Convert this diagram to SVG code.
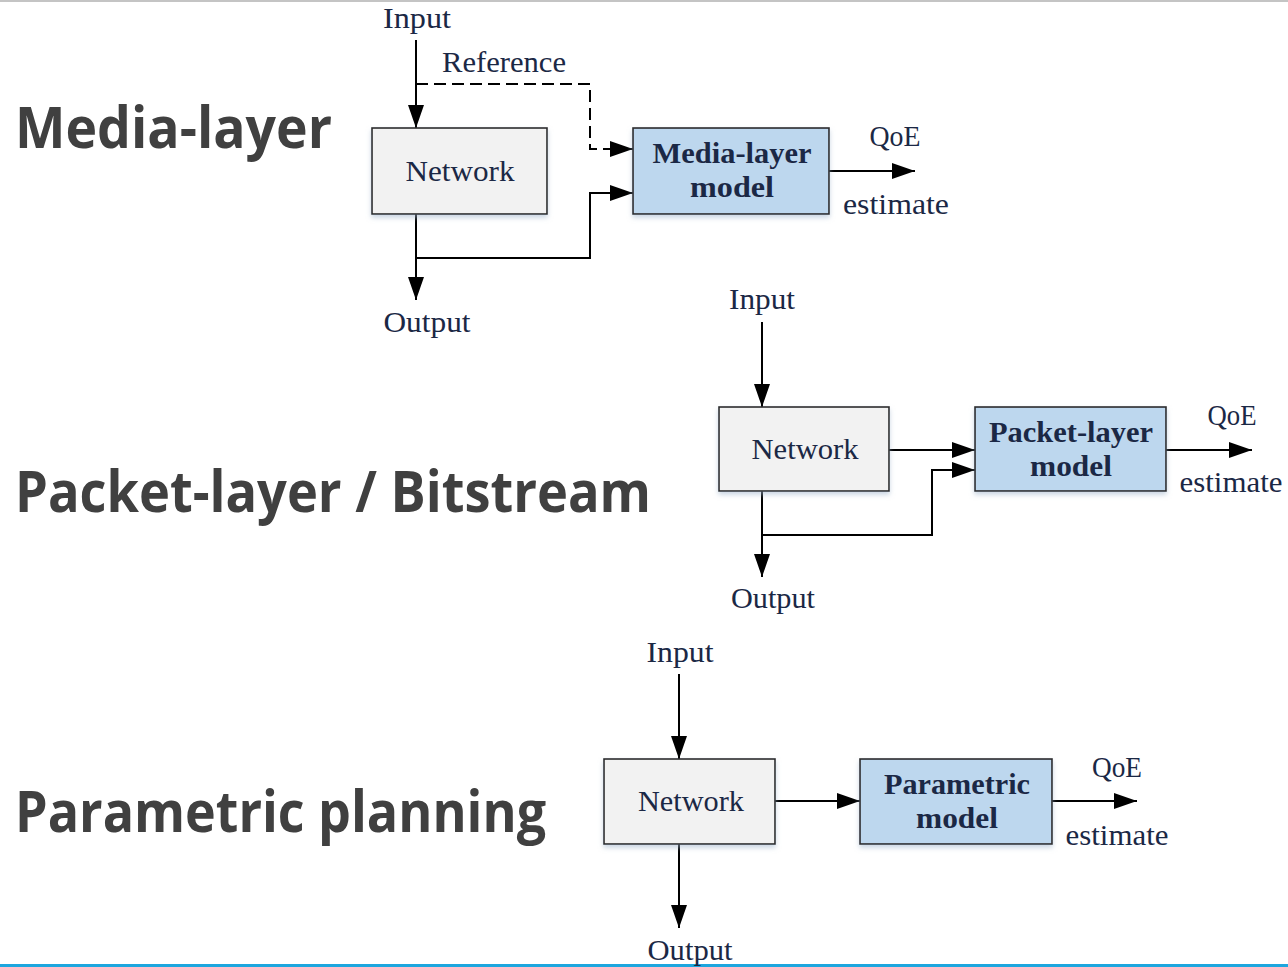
<svg xmlns="http://www.w3.org/2000/svg" width="1288" height="967" viewBox="0 0 1288 967">
  <style>
    .title { font-family: "Open Sans", "Liberation Sans", sans-serif; font-weight: 700; font-size: 58px; fill: #404040; }
    .lbl { font-family: "Liberation Serif", "DejaVu Serif", serif; font-size: 29px; fill: #1b2845; text-anchor: middle; }
    .mdl { font-family: "Liberation Serif", "DejaVu Serif", serif; font-size: 29px; font-weight: 700; fill: #1b2845; text-anchor: middle; }
    .net { fill: #f2f2f2; stroke: #2a2a2a; stroke-width: 1.6; filter: url(#shadow); }
    .model { fill: #bdd7ee; stroke: #2a2a2a; stroke-width: 1.6; filter: url(#shadow); }
    .wire { fill: none; stroke: #000; stroke-width: 2; }
    .arrow { marker-end: url(#head); }
    .dash { stroke-dasharray: 12 6; }
  </style>
  <defs>
    <marker id="head" markerUnits="userSpaceOnUse" markerWidth="24" markerHeight="16" refX="23" refY="8" orient="auto">
      <path d="M0,0 L23,8 L0,16 z" fill="#000"/>
    </marker>
    <filter id="shadow" x="-10%" y="-10%" width="120%" height="130%">
      <feDropShadow dx="0" dy="3" stdDeviation="2.5" flood-color="#9fb4cc" flood-opacity="0.55"/>
    </filter>
  </defs>

  <rect width="1288" height="967" fill="#fff"/>
  <!-- page rules -->
  <rect x="0" y="0" width="1288" height="2" fill="#c4c4c4"/>
  <rect x="0" y="964" width="1288" height="3" fill="#1da6de"/>

  <!-- section titles -->
  <text class="title" x="15" y="148" textLength="317" lengthAdjust="spacingAndGlyphs">Media-layer</text>
  <text class="title" x="15" y="512" textLength="636" lengthAdjust="spacingAndGlyphs">Packet-layer / Bitstream</text>
  <text class="title" x="15" y="832" textLength="531" lengthAdjust="spacingAndGlyphs">Parametric planning</text>

  <!-- connectors -->
  <g id="connectors">
    <!-- media-layer -->
    <line class="wire arrow" x1="416" y1="40" x2="416" y2="128"/>
    <polyline class="wire dash arrow" points="416,84 590,84 590,149 633,149"/>
    <line class="wire arrow" x1="416" y1="214" x2="416" y2="300"/>
    <polyline class="wire arrow" points="416,258 590,258 590,193 633,193"/>
    <line class="wire arrow" x1="829" y1="171" x2="915" y2="171"/>
    <!-- packet-layer -->
    <line class="wire arrow" x1="762" y1="322" x2="762" y2="407"/>
    <line class="wire arrow" x1="889" y1="450" x2="975" y2="450"/>
    <line class="wire arrow" x1="762" y1="491" x2="762" y2="577"/>
    <polyline class="wire arrow" points="762,535 932,535 932,470 975,470"/>
    <line class="wire arrow" x1="1166" y1="450" x2="1252" y2="450"/>
    <!-- parametric -->
    <line class="wire arrow" x1="679" y1="674" x2="679" y2="759"/>
    <line class="wire arrow" x1="775" y1="801" x2="860" y2="801"/>
    <line class="wire arrow" x1="679" y1="844" x2="679" y2="928"/>
    <line class="wire arrow" x1="1052" y1="801" x2="1137" y2="801"/>
  </g>

  <!-- media-layer nodes -->
  <g id="ml-network">
    <rect class="net" x="372" y="128" width="175" height="86"/>
    <text class="lbl" x="460" y="181" textLength="109" lengthAdjust="spacingAndGlyphs">Network</text>
  </g>
  <g id="ml-model">
    <rect class="model" x="633" y="128" width="196" height="86"/>
    <text class="mdl" x="732" y="163" textLength="159" lengthAdjust="spacingAndGlyphs">Media-layer</text>
    <text class="mdl" x="732" y="197" textLength="84" lengthAdjust="spacingAndGlyphs">model</text>
  </g>
  <g id="ml-labels">
    <text class="lbl" x="417" y="28" textLength="68" lengthAdjust="spacingAndGlyphs">Input</text>
    <text class="lbl" x="504" y="72" textLength="124" lengthAdjust="spacingAndGlyphs">Reference</text>
    <text class="lbl" x="427" y="332" textLength="87" lengthAdjust="spacingAndGlyphs">Output</text>
    <text class="lbl" x="895" y="146" textLength="51" lengthAdjust="spacingAndGlyphs">QoE</text>
    <text class="lbl" x="896" y="214" textLength="106" lengthAdjust="spacingAndGlyphs">estimate</text>
  </g>

  <!-- packet-layer nodes -->
  <g id="pl-network">
    <rect class="net" x="719" y="407" width="170" height="84"/>
    <text class="lbl" x="805" y="459" textLength="107" lengthAdjust="spacingAndGlyphs">Network</text>
  </g>
  <g id="pl-model">
    <rect class="model" x="975" y="407" width="191" height="84"/>
    <text class="mdl" x="1071" y="442" textLength="164" lengthAdjust="spacingAndGlyphs">Packet-layer</text>
    <text class="mdl" x="1071" y="476" textLength="82" lengthAdjust="spacingAndGlyphs">model</text>
  </g>
  <g id="pl-labels">
    <text class="lbl" x="762" y="309" textLength="66" lengthAdjust="spacingAndGlyphs">Input</text>
    <text class="lbl" x="773" y="608" textLength="84" lengthAdjust="spacingAndGlyphs">Output</text>
    <text class="lbl" x="1232" y="425" textLength="49" lengthAdjust="spacingAndGlyphs">QoE</text>
    <text class="lbl" x="1231" y="492" textLength="103" lengthAdjust="spacingAndGlyphs">estimate</text>
  </g>

  <!-- parametric nodes -->
  <g id="pp-network">
    <rect class="net" x="604" y="759" width="171" height="85"/>
    <text class="lbl" x="691" y="811" textLength="106" lengthAdjust="spacingAndGlyphs">Network</text>
  </g>
  <g id="pp-model">
    <rect class="model" x="860" y="759" width="192" height="85"/>
    <text class="mdl" x="957" y="794" textLength="146" lengthAdjust="spacingAndGlyphs">Parametric</text>
    <text class="mdl" x="957" y="828" textLength="82" lengthAdjust="spacingAndGlyphs">model</text>
  </g>
  <g id="pp-labels">
    <text class="lbl" x="680" y="662" textLength="67" lengthAdjust="spacingAndGlyphs">Input</text>
    <text class="lbl" x="690" y="960" textLength="85" lengthAdjust="spacingAndGlyphs">Output</text>
    <text class="lbl" x="1117" y="777" textLength="50" lengthAdjust="spacingAndGlyphs">QoE</text>
    <text class="lbl" x="1117" y="845" textLength="103" lengthAdjust="spacingAndGlyphs">estimate</text>
  </g>
</svg>
